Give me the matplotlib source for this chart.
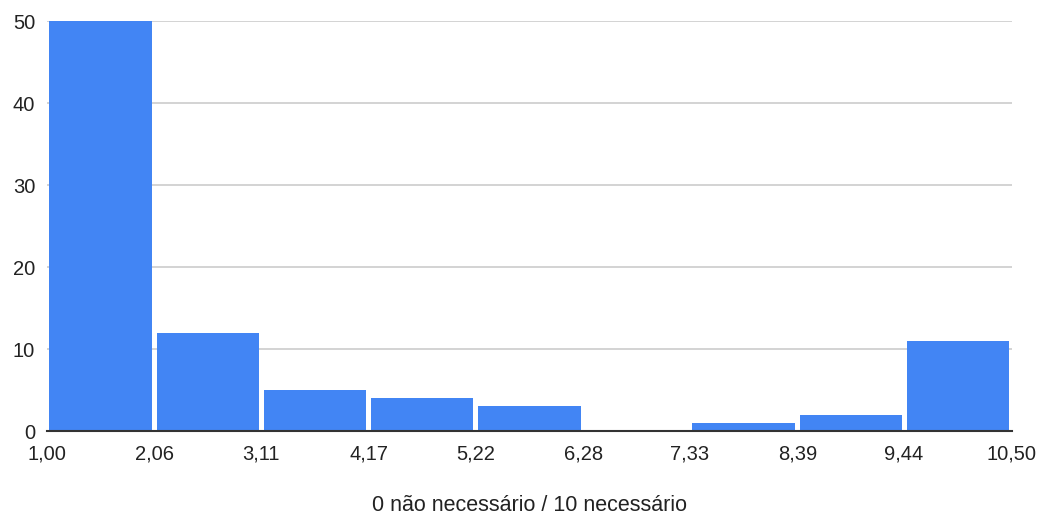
import matplotlib
matplotlib.use("Agg")
import matplotlib.pyplot as plt
import numpy as np

# histogram data
bin_edges = [1.00, 2.06, 3.11, 4.17, 5.22, 6.28, 7.33, 8.39, 9.44, 10.50]
counts = [50, 12, 5, 4, 3, 0, 1, 2, 11]
edge_labels = ["1,00", "2,06", "3,11", "4,17", "5,22", "6,28", "7,33", "8,39", "9,44", "10,50"]
y_ticks = [0, 10, 20, 30, 40, 50]
x_title = "0 não necessário / 10 necessário"

plt.rcParams['font.family'] = ['Liberation Sans', 'DejaVu Sans']

fig = plt.figure(figsize=(10.42, 5.15), dpi=100)
ax = fig.add_axes([0.045, 0.163, 0.926, 0.796])

edges = np.array(bin_edges)
lefts = edges[:-1]
widths = np.diff(edges)
gap = 0.024
ax.bar(lefts + widths * gap, counts, width=widths * (1 - 2 * gap), align='edge',
       color='#4285f4', zorder=3)

ax.set_xlim(edges[0], edges[-1])
ax.set_ylim(0, 50)
ax.set_yticks(y_ticks)
ax.set_yticklabels([str(v) for v in y_ticks], fontsize=14.5, color='#222222')
ax.set_xticks(edges)
ax.set_xticklabels(edge_labels, fontsize=14.5, color='#222222')
ax.tick_params(axis='both', length=0)
ax.tick_params(axis='y', pad=8.5)
ax.tick_params(axis='x', pad=9.5)

ax.yaxis.grid(True, color='#cccccc', linewidth=1.2, zorder=0)
for s in ['top', 'right', 'left']:
    ax.spines[s].set_visible(False)
ax.spines['bottom'].set_color('#333333')
ax.spines['bottom'].set_linewidth(1.5)
ax.spines['bottom'].set_zorder(4)

ax.set_xlabel(x_title, fontsize=15.5, color='#222222', labelpad=23)

fig.savefig("out.png", dpi=100)
